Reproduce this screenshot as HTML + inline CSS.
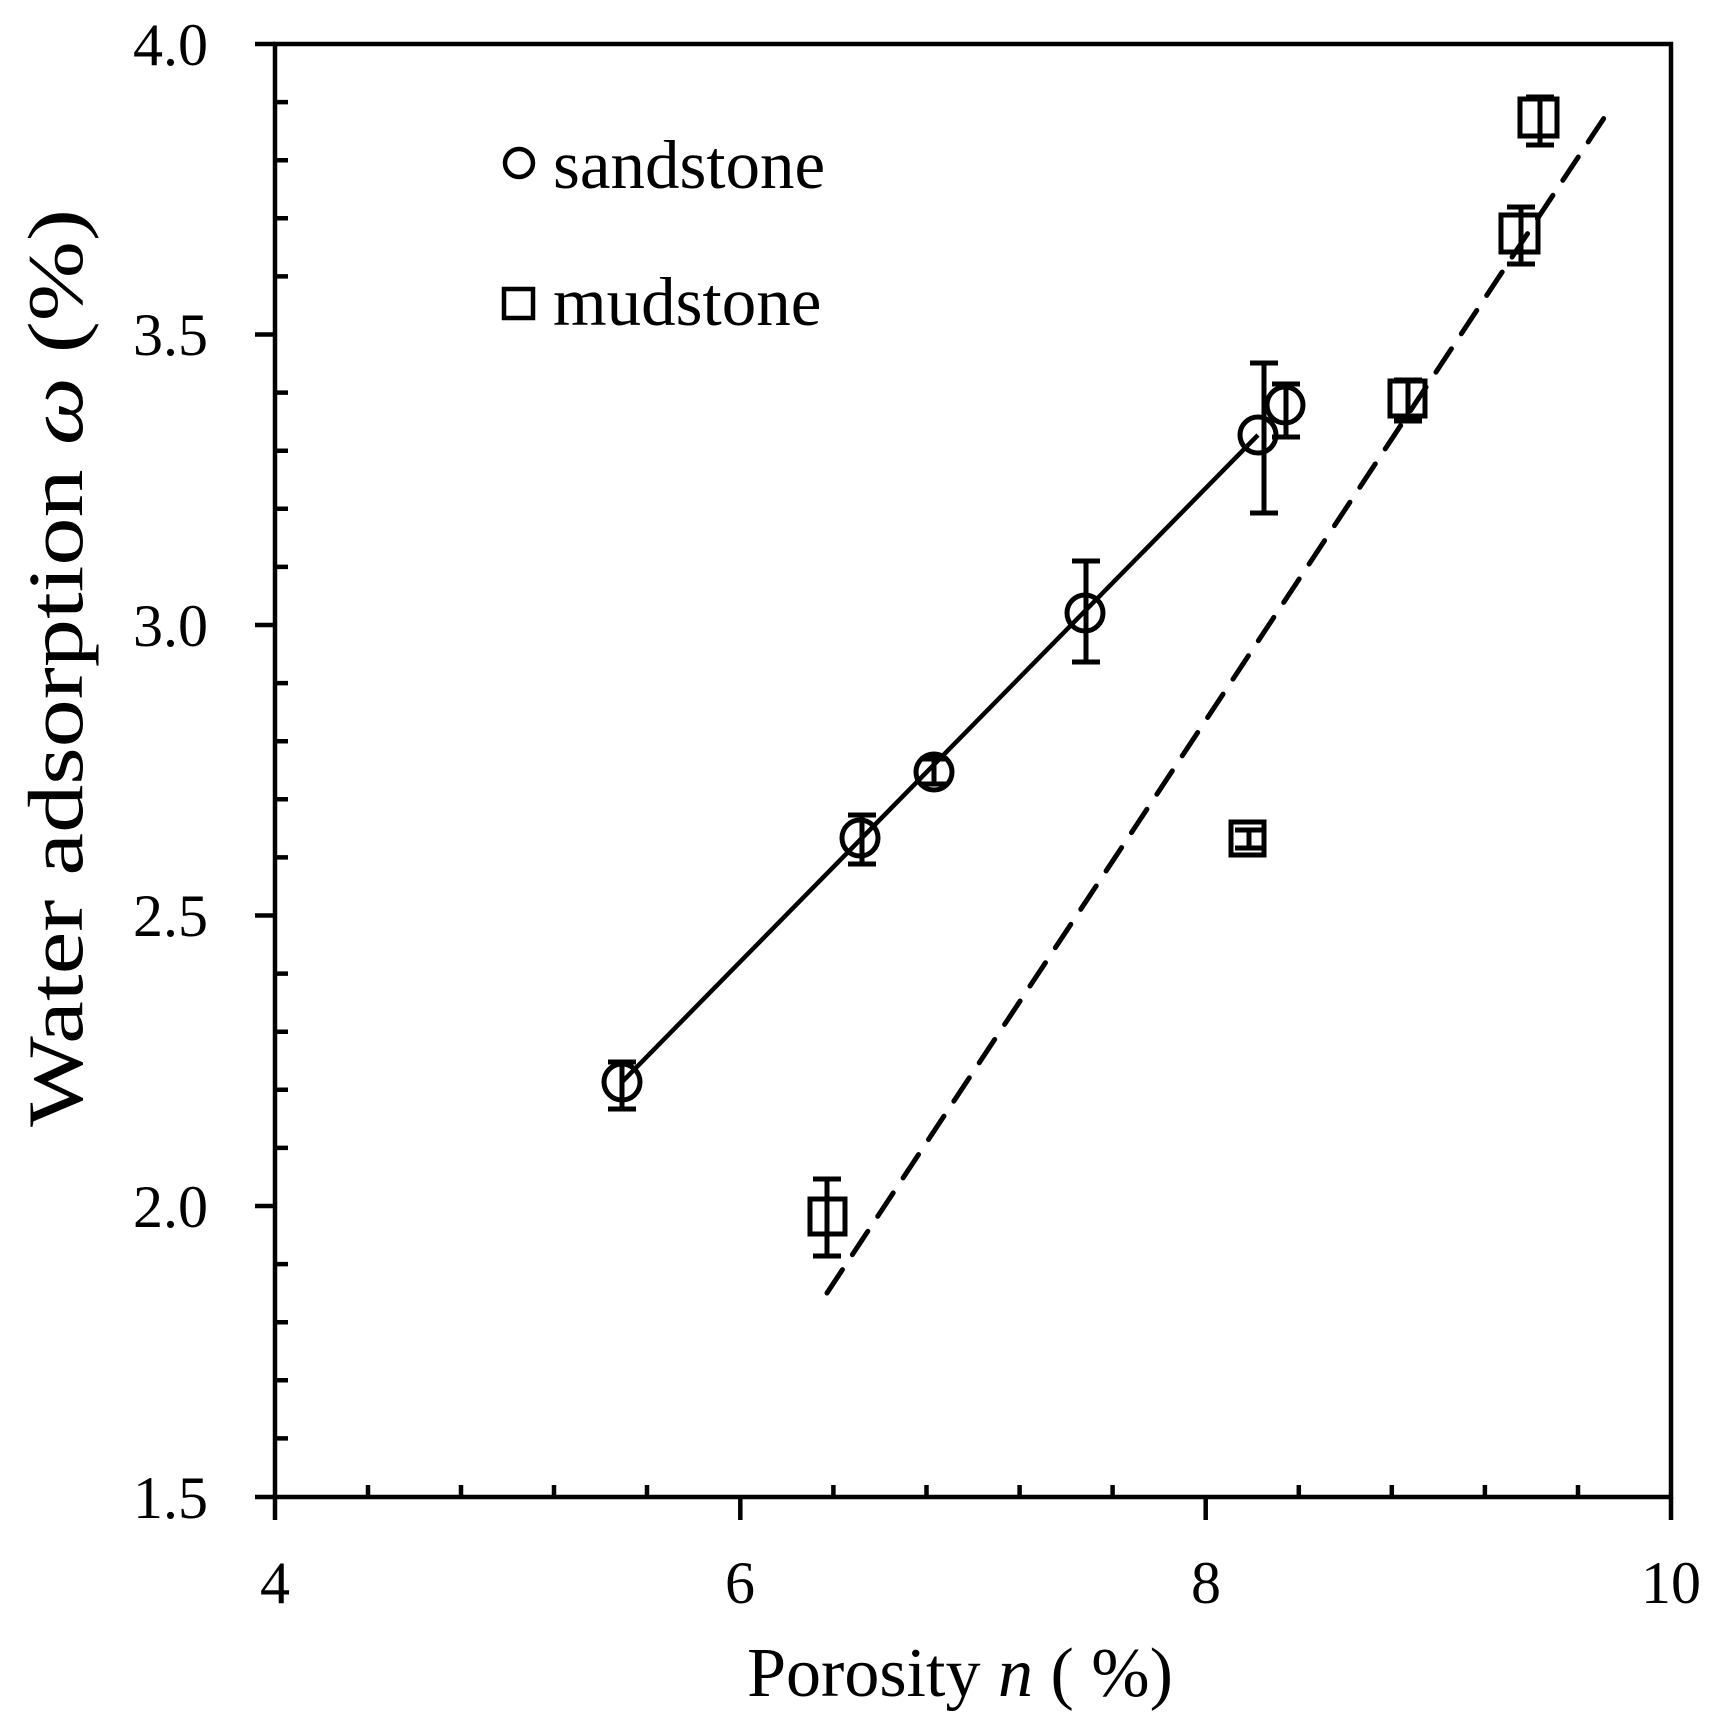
<!DOCTYPE html>
<html><head><meta charset="utf-8"><style>html,body{margin:0;padding:0;background:#fff}svg{display:block}</style></head>
<body>
<svg width="1716" height="1732" viewBox="0 0 1716 1732" xmlns="http://www.w3.org/2000/svg" font-family="Liberation Serif, serif">
<rect width="1716" height="1732" fill="#fff"/>
<g stroke="#000" stroke-width="4.5" fill="none">
<rect x="275" y="44" width="1396" height="1453"/>
<path d="M255 44H275M255 334.5H275M255 625H275M255 915.5H275M255 1206H275M255 1497H275"/>
<path d="M275 102.1H288M275 160.2H288M275 218.3H288M275 276.4H288M275 392.6H288M275 450.7H288M275 508.8H288M275 566.9H288M275 683.1H288M275 741.2H288M275 799.3H288M275 857.4H288M275 973.6H288M275 1031.7H288M275 1089.8H288M275 1147.9H288M275 1264.1H288M275 1322.2H288M275 1380.3H288M275 1438.4H288"/>
<path d="M275 1497V1520M740.3 1497V1520M1205.7 1497V1520M1671 1497V1520"/>
<path d="M368 1497V1485M461 1497V1485M554 1497V1485M647 1497V1485M833.4 1497V1485M926.5 1497V1485M1019.6 1497V1485M1112.6 1497V1485M1298.8 1497V1485M1391.8 1497V1485M1484.9 1497V1485M1578 1497V1485"/>
</g>
<g font-size="60" fill="#000">
<g text-anchor="end">
<text x="208" y="65">4.0</text><text x="208" y="355">3.5</text><text x="208" y="646">3.0</text>
<text x="208" y="936">2.5</text><text x="208" y="1227">2.0</text><text x="208" y="1518">1.5</text>
</g>
<g text-anchor="middle">
<text x="275" y="1603">4</text><text x="740" y="1603">6</text><text x="1206" y="1603">8</text><text x="1671" y="1603">10</text>
</g>
</g>
<text x="960" y="1696" font-size="70" text-anchor="middle">Porosity <tspan font-style="italic">n</tspan> ( %)</text>
<text transform="translate(82,668) rotate(-90)" font-size="78" text-anchor="middle" textLength="918" lengthAdjust="spacingAndGlyphs">Water adsorption <tspan font-style="italic">ω</tspan> (%)</text>
<circle cx="519" cy="163" r="14" fill="none" stroke="#000" stroke-width="4.5"/>
<text x="553" y="188" font-size="69">sandstone</text>
<rect x="504" y="289" width="29" height="29" fill="none" stroke="#000" stroke-width="4.5"/>
<text x="553" y="325" font-size="69">mudstone</text>
<line x1="622" y1="1082" x2="1258" y2="435" stroke="#000" stroke-width="4.5"/>
<line x1="827" y1="1293" x2="1608" y2="112" stroke="#000" stroke-width="5" stroke-dasharray="28,18" stroke-linecap="round"/>
<g stroke="#000" stroke-width="5" fill="none">
<path d="M622 1062V1109M608 1062H636M608 1109H636"/>
<path d="M862 815V864M848 815H876M848 864H876"/>
<path d="M934 759V784M920 759H948M920 784H948"/>
<path d="M1086 561V662M1072 561H1100M1072 662H1100"/>
<path d="M1264 363V513M1250 363H1278M1250 513H1278"/>
<path d="M1286 384V437M1272 384H1300M1272 437H1300"/>
<circle cx="622" cy="1082" r="18"/><circle cx="860" cy="838" r="18"/><circle cx="934" cy="772" r="18"/>
<circle cx="1085" cy="613" r="18"/><circle cx="1258" cy="435" r="18"/><circle cx="1285" cy="405" r="18"/>
<path d="M827 1179V1256M813 1179H841M813 1256H841"/>
<path d="M1249 830V848M1235 830H1263M1235 848H1263"/>
<path d="M1408 380V421M1394 380H1422M1394 421H1422"/>
<path d="M1521 207V264M1507 207H1535M1507 264H1535"/>
<path d="M1540 97V145M1526 97H1554M1526 145H1554"/>
<rect x="810" y="1199" width="35" height="35"/>
<rect x="1231" y="822" width="33" height="33"/>
<rect x="1390" y="381" width="35" height="35"/>
<rect x="1501" y="215" width="37" height="37"/>
<rect x="1520" y="99" width="37" height="37"/>
</g>
</svg>
</body></html>
